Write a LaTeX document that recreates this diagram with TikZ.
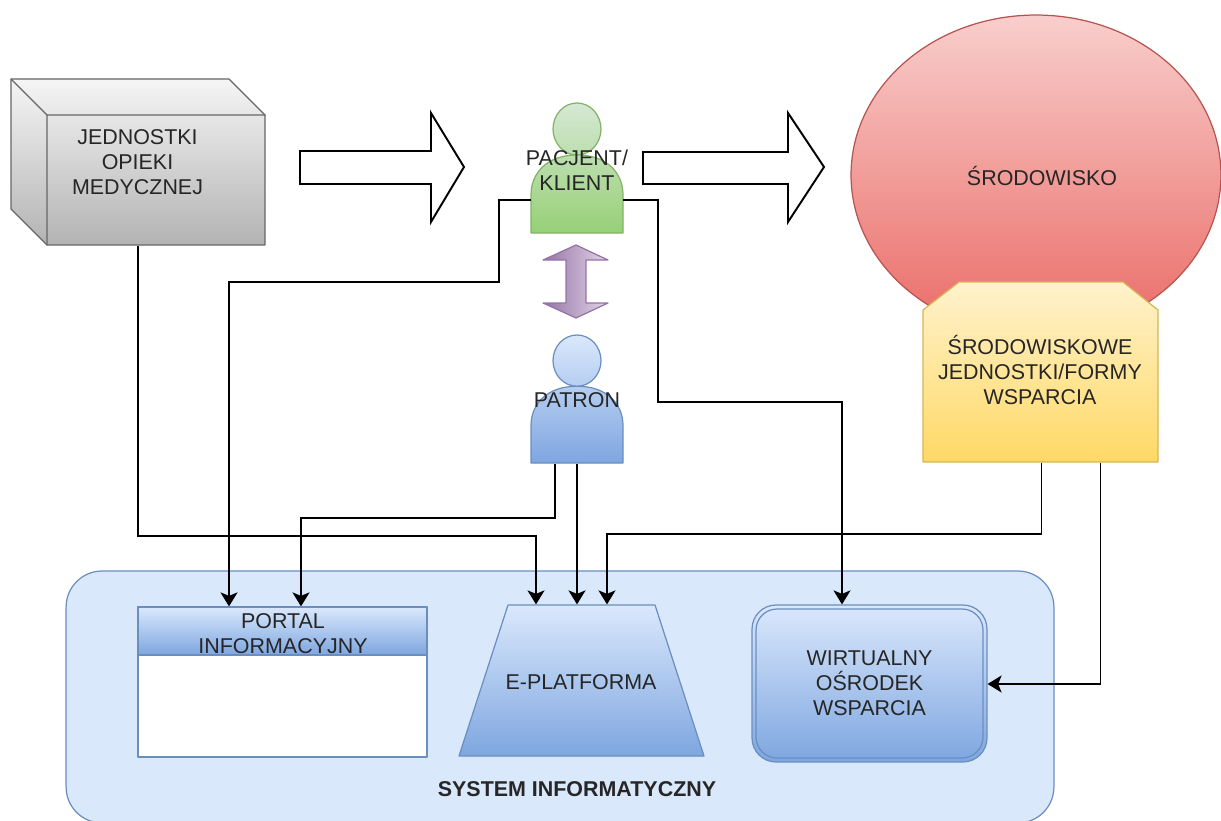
\documentclass[tikz,border=0pt]{standalone}
\usepackage{fontspec}
\setmainfont{Liberation Sans}
\usetikzlibrary{arrows.meta,shapes.geometric}
\definecolor{blueline}{HTML}{6C8EBF}
\definecolor{bluetop}{HTML}{DAE8FC}
\definecolor{bluebot}{HTML}{7EA6E0}
\definecolor{greenline}{HTML}{82B366}
\definecolor{greentop}{HTML}{D5E8D4}
\definecolor{greenbot}{HTML}{97D077}
\definecolor{redline}{HTML}{B85450}
\definecolor{redtop}{HTML}{F8CECC}
\definecolor{redbot}{HTML}{EA6B66}
\definecolor{yellowline}{HTML}{D6B656}
\definecolor{yellowtop}{HTML}{FFF2CC}
\definecolor{yellowbot}{HTML}{FFD966}
\definecolor{purpleline}{HTML}{9673A6}
\definecolor{purplelight}{HTML}{E1D5E7}
\definecolor{grayline}{HTML}{666666}
\definecolor{graytop}{HTML}{F5F5F5}
\definecolor{graybot}{HTML}{B3B3B3}
\tikzset{
	label text/.style={align=center,inner sep=0pt,text=black!85,font=\fontsize{12.2}{14.2}\selectfont},
	anchor box/.style={inner sep=0pt},
	blue grad/.style={draw=blueline,top color=bluetop,bottom color=bluebot},
	green actor/.style={draw=greenline,top color=greentop,bottom color=greenbot},
	blue actor/.style={draw=blueline,top color=bluetop,bottom color=bluebot},
	big arrow/.style={draw=black,fill=white,line width=1.1pt,line join=miter},
	link/.style={draw=black,line width=1.1pt,line join=miter,line cap=butt},
	pics/actor/.style={code={
		\path[pic actions] (-46,130) -- (-46,92) .. controls (-46,70) and (-30,52) .. (0,52) .. controls (30,52) and (46,70) .. (46,92) -- (46,130) -- cycle (24,26) arc [start angle=0,end angle=360,x radius=24,y radius=26];
	}}
}
\begin{document}
\begin{tikzpicture}[line cap=round,line join=round,>={Stealth[length=0.28cm,width=0.34cm,inset=0.07cm]},x=0.02cm,y=-0.02cm,line width=0.7pt]
	\useasboundingbox (0,0) rectangle (1221,821);
	\clip (0,0) rectangle (1221,821);
	\node[ellipse,draw=redline,top color=redtop,bottom color=redbot,minimum width=7.4cm,minimum height=6.4cm,inner sep=0pt] (otoczenie) at (1036,175) {};
	\node[label text] (otoczenietxt) at (1042,175.5) {ŚRODOWISKO};
	\shade[draw=yellowline,top color=yellowtop,bottom color=yellowbot] (923,310) -- (959,282) -- (1123,282) -- (1158,310) -- (1158,462) -- (923,462) -- cycle;
	\node[anchor box,minimum width=4.7cm,minimum height=3.6cm] (wsparcie) at (1040.5,372) {};
	\node[label text] (wsparcietxt) at (1040,370) {ŚRODOWISKOWE\\JEDNOSTKI/FORMY\\WSPARCIA};
	\node[draw=blueline,fill=bluetop,rounded corners=0.72cm,minimum width=19.76cm,minimum height=5.04cm,inner sep=0pt] (system) at (560,697) {};
	\node[label text,font=\fontsize{12.2}{14.2}\selectfont\bfseries] (systemtxt) at (577,789) {SYSTEM INFORMATYCZNY};
	\shade[draw=grayline,top color=graytop,bottom color=graybot] (11,79) -- (229,79) -- (265,115) -- (265,245) -- (47,245) -- (11,209) -- cycle;
	\draw[grayline] (11,79) -- (47,115) -- (265,115) (47,115) -- (47,245);
	\node[anchor box,minimum width=4.36cm,minimum height=2.6cm] (medbox) at (156,180) {};
	\node[label text] (medtxt) at (137.5,162) {JEDNOSTKI\\OPIEKI\\MEDYCZNEJ};
	\draw[big arrow] (300,151) -- (431,151) -- (431,113) -- (464,167) -- (431,222) -- (431,184) -- (300,184) -- cycle;
	\draw[big arrow] (643,152) -- (788,152) -- (788,113) -- (824,167) -- (788,222) -- (788,184) -- (643,184) -- cycle;
	\path (577,103) pic[green actor] {actor};
	\path (577,335) pic[blue actor,yscale=0.985] {actor};
	\node[label text,minimum width=1.84cm,minimum height=2.6cm] (pacjent) at (577,170) {PACJENT/\\KLIENT};
	\node[label text,minimum width=1.84cm,minimum height=2.52cm] (patron) at (577,400) {PATRON};
	\shade[draw=purpleline,left color=purpleline,right color=purplelight] (576,245) -- (608,260) -- (586,260) -- (586,303) -- (608,303) -- (576,318) -- (543,303) -- (566,303) -- (566,260) -- (543,260) -- cycle;
	\node[draw=blueline,fill=white,minimum width=5.78cm,minimum height=3cm,inner sep=0pt] (portal) at (282.5,682) {};
	\node[blue grad,anchor box,minimum width=5.78cm,minimum height=0.96cm] (portalhead) at (282.5,631) {};
	\node[label text] (portaltxt) at (283,633.5) {PORTAL\\INFORMACYJNY};
	\shade[blue grad] (508,605) -- (655,605) -- (704,756) -- (459,756) -- cycle;
	\node[anchor box,minimum width=4.9cm,minimum height=3.02cm] (eplatforma) at (581.5,680.5) {};
	\node[label text] (eplatformatxt) at (581,682) {E-PLATFORMA};
	\node[blue grad,label text,rounded corners=0.48cm,minimum width=4.7cm,minimum height=3.14cm] (wirtualny) at (869.5,683.5) {WIRTUALNY\\OŚRODEK\\WSPARCIA};
	\draw[blueline,rounded corners=0.42cm] (756,609) rectangle (983,758);
	\draw[link,->] ([xshift=-0.36cm]medbox.south) -- ++(0,290) -| ([xshift=-0.91cm]eplatforma.north);
	\draw[link,->] ([xshift=0.12cm,yshift=-0.6cm]pacjent.west) -| (499,282) -| ([xshift=-1.07cm]portal.north);
	\draw[link,->] ([xshift=-0.12cm,yshift=-0.6cm]pacjent.east) -| (658,402) -| ([xshift=-0.55cm]wirtualny.north);
	\draw[link,->] ([xshift=-0.44cm]patron.south) -- ++(0,54) -| ([xshift=0.37cm]portal.north);
	\draw[link,->] (patron.south) -- (patron.south |- eplatforma.north);
	\draw[link,->] ([xshift=0.02cm]wsparcie.south) -- ++(0,71) -| ([xshift=0.51cm]eplatforma.north);
	\draw[link,->] ([xshift=1.2cm]wsparcie.south) |- ([yshift=-0.01cm]wirtualny.east);
\end{tikzpicture}
\end{document}
